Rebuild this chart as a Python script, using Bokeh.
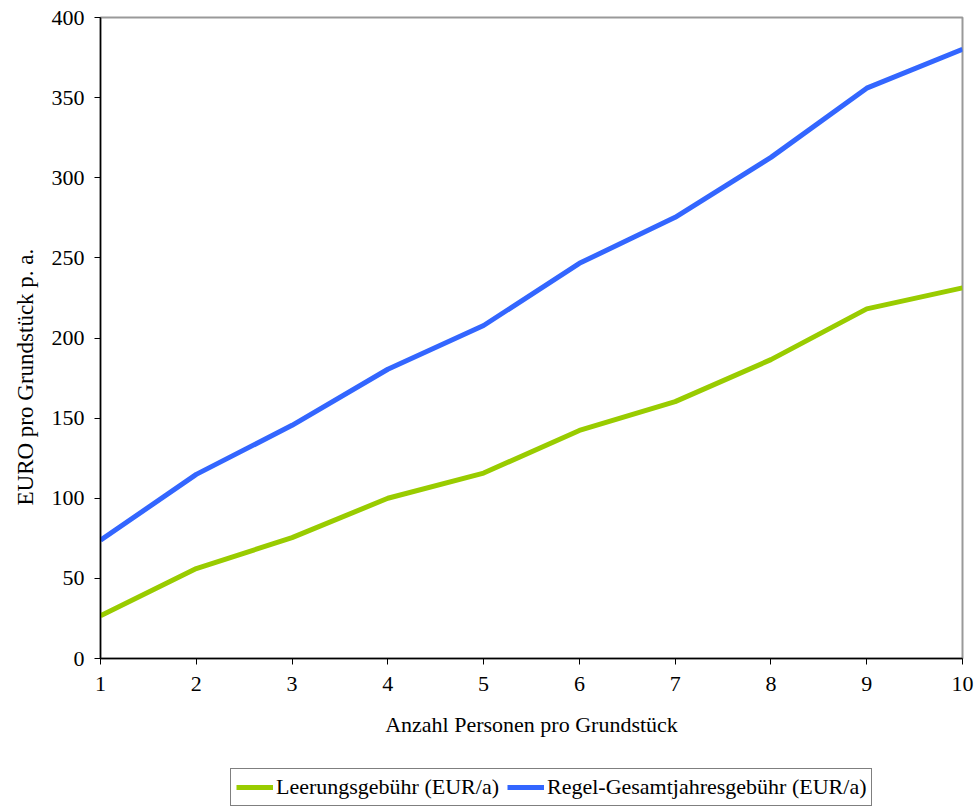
from bokeh.plotting import figure
from bokeh.models import Legend, LegendItem, Range1d, FixedTicker, Title
from bokeh.layouts import column
from bokeh.embed import file_html
from bokeh.resources import INLINE

personen = [1, 2, 3, 4, 5, 6, 7, 8, 9, 10]
leerung = [26.6, 56.1, 75.4, 100.0, 115.7, 142.3, 160.3, 186.5, 218.2, 231.3]
regel = [73.8, 114.9, 145.5, 180.5, 207.8, 246.6, 275.3, 312.7, 355.9, 380.2]
y_ticks = [0, 50, 100, 150, 200, 250, 300, 350, 400]
labels = ["Leerungsgebühr (EUR/a)", "Regel-Gesamtjahresgebühr (EUR/a)"]
colors = ["#99cc00", "#3366ff"]

FONT = "Liberation Serif"
FS = "22px"

p = figure(width=978, height=740, output_backend="svg", toolbar_location=None,
           x_range=Range1d(1, 10), y_range=Range1d(0, 400),
           min_border_left=98, min_border_right=16, min_border_top=17, min_border_bottom=82)
p.xgrid.visible = False
p.ygrid.visible = False
p.outline_line_color = "#999999"
p.outline_line_width = 2

p.line(personen, leerung, line_color=colors[0], line_width=5)
p.line(personen, regel, line_color=colors[1], line_width=5)

for ax in (p.xaxis[0], p.yaxis[0]):
    ax.axis_line_color = "black"
    ax.axis_line_width = 1.5
    ax.major_tick_line_color = "black"
    ax.major_tick_out = 6
    ax.major_tick_in = 0
    ax.minor_tick_line_color = None
    ax.major_label_text_font = FONT
    ax.major_label_text_font_size = FS
    ax.major_label_text_color = "black"
    ax.axis_label_text_font = FONT
    ax.axis_label_text_font_size = FS
    ax.axis_label_text_font_style = "normal"
    ax.axis_label_text_color = "black"

p.xaxis[0].ticker = FixedTicker(ticks=personen)
p.yaxis[0].ticker = FixedTicker(ticks=y_ticks)
p.xaxis[0].major_label_standoff = 12
p.yaxis[0].major_label_standoff = 10
p.xaxis[0].axis_label = "Anzahl Personen pro Grundstück"
p.xaxis[0].axis_label_standoff = 18

ytitle = Title(text="EURO pro Grundstück p. a.", align="left", offset=153,
               text_font=FONT, text_font_size="23px", text_font_style="normal",
               text_color="black", standoff=21)
p.add_layout(ytitle, "left")

# legend strip (series drawn out of view; only the legend is visible)
q = figure(width=978, height=69, output_backend="svg", toolbar_location=None,
           x_range=Range1d(0, 1), y_range=Range1d(1000, 1001),
           x_axis_type=None, y_axis_type=None,
           min_border_left=0, min_border_right=0, min_border_top=0, min_border_bottom=0)
q.xgrid.visible = False
q.ygrid.visible = False
q.outline_line_color = None
r1 = q.line(personen, leerung, line_color=colors[0], line_width=5)
r2 = q.line(personen, regel, line_color=colors[1], line_width=5)

legend = Legend(items=[LegendItem(label=labels[0], renderers=[r1]),
                       LegendItem(label=labels[1], renderers=[r2])],
                orientation="horizontal", location=(130, 3),
                label_text_font=FONT, label_text_font_size=FS, label_text_color="black",
                border_line_color="black", border_line_width=1.5,
                glyph_width=37, glyph_height=16, label_height=16, label_standoff=3, spacing=8,
                padding=5, margin=0, background_fill_alpha=1)
q.add_layout(legend, "center")

open("out.html", "w").write(file_html(column(p, q, spacing=0), INLINE))
